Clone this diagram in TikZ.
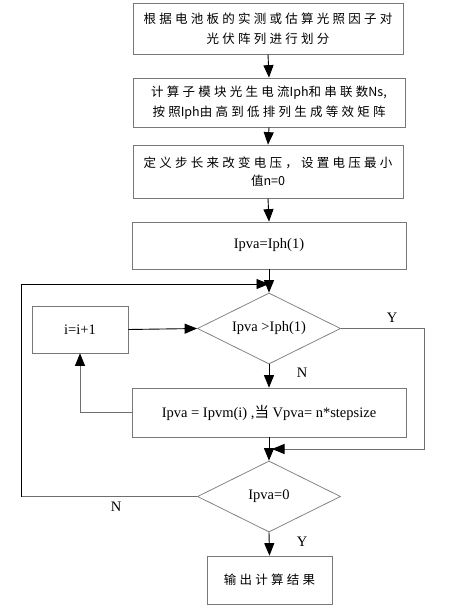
\documentclass[tikz,border=0pt]{standalone}
\usepackage{fontspec}
\setmainfont{Liberation Serif}
\newfontfamily\cjk[LetterSpace=26]{Noto Sans CJK SC}
\newfontfamily\cjkn{Noto Sans CJK SC}
\usetikzlibrary{shapes.geometric,arrows.meta}
\definecolor{bgray}{RGB}{120,120,120}
\definecolor{lgray}{RGB}{110,110,110}
\begin{document}
\begin{tikzpicture}[x=1pt,y=-1pt,
  boxst/.style={draw=bgray,line width=0.7pt,inner sep=0pt,align=center},
  cjktext/.style={font=\cjk\fontsize{12.5}{20.5}\selectfont},
  lat/.style={font=\fontsize{14.5}{18}\selectfont},
  dia/.style={draw=bgray,line width=0.7pt,diamond,aspect=2,inner sep=0pt,
    minimum width=143pt,minimum height=71pt},
  arr/.style={-{Triangle[length=12.5pt,width=10pt,color=black]},line width=0.9pt,black},
  garr/.style={-{Triangle[length=12.5pt,width=10pt,color=black]},line width=0.7pt,draw=lgray},
  gline/.style={line width=0.7pt,draw=lgray}]
\fill[white] (0,0) rectangle (457,612);
\useasboundingbox (0,0) rectangle (457,612);

\node[boxst,cjktext,minimum width=270pt,minimum height=51pt] (b1) at (268,28.5)
  {根据电池板的实测或估算光照因子对\\光伏阵列进行划分};
\node[boxst,cjktext,minimum width=272pt,minimum height=49pt] (b2) at (269,102.5)
  {计算子模块光生电流{\cjkn Iph}和串联数{\cjkn Ns},\\按照{\cjkn Iph}由高到低排列生成等效矩阵};
\node[boxst,cjktext,minimum width=270pt,minimum height=53pt,font=\cjk\fontsize{12.5}{18.5}\selectfont] (b3) at (268,171.5)
  {定义步长来改变电压，设置电压最小\\值{\cjkn n=0}};
\node[boxst,lat,minimum width=274pt,minimum height=47pt] (b4) at (269,245.5) {Ipva=Iph(1)};
\node[dia,lat] (d1) at (269,328.5) {Ipva >Iph(1)};
\node[boxst,lat,minimum width=96pt,minimum height=47pt] (bi) at (80,329.5) {i=i+1};
\node[boxst,lat,minimum width=274pt,minimum height=49pt] (b5) at (269,412.5)
  {Ipva = Ipvm(i) ,{\cjkn 当} Vpva= n*stepsize};
\node[dia,lat] (d2) at (269,496.5) {Ipva=0};
\node[boxst,cjktext,minimum width=125pt,minimum height=48pt] (bo) at (269.5,580) {输出计算结果};

\coordinate (j1) at (269,284);
\coordinate (j2) at (272,449);
\coordinate (lx) at (21,496.5);
\coordinate (rx) at (424,328.5);

\draw[arr] (b1.south) -- (b2.north);
\draw[arr] (b2.south) -- (b3.north);
\draw[arr] (b3.south) -- (b4.north);
\draw[arr] (b4.south) -- (d1.north);
\draw[arr] (bi.east) -- (d1.west);
\draw[arr] (d1.south) -- (b5.north);
\draw[garr] (d1.east) -- (rx) |- (j2);
\draw[garr] (b5.west) -| (bi.south);
\draw[arr] (b5.south) -- (d2.north);
\draw[arr] (d2.south) -- (bo.north);
\draw[gline] (d2.west) -- (lx);
\draw[arr] (lx) |- (j1);

\node[lat] (ly1) at (392,318) {Y};
\node[lat] (ln1) at (302,373) {N};
\node[lat] (ln2) at (116,507) {N};
\node[lat] (ly2) at (302,542) {Y};
\end{tikzpicture}
\end{document}
